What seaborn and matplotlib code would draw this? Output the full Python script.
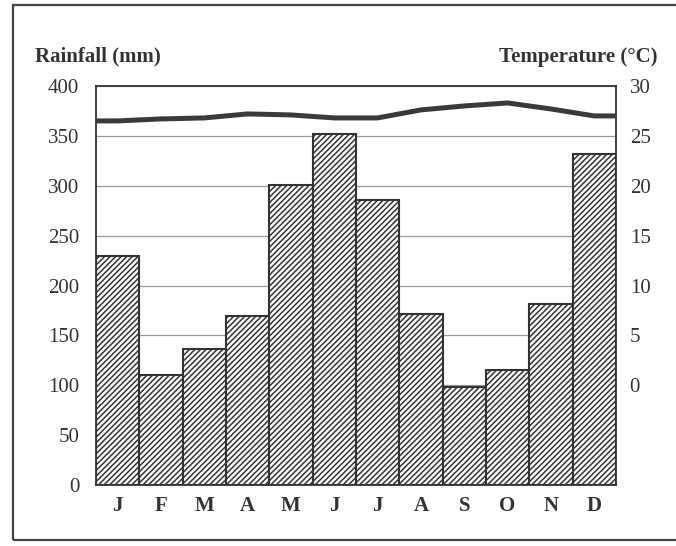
import numpy as np
import pandas as pd
import matplotlib
matplotlib.use("Agg")
import matplotlib.pyplot as plt
import seaborn as sns

# ---- data ----
months = ["Jan", "Feb", "Mar", "Apr", "May", "Jun",
          "Jul", "Aug", "Sep", "Oct", "Nov", "Dec"]
rainfall = [230, 110, 136, 169, 301, 352, 286, 171, 98, 115, 181, 332]
temperature = [26.5, 26.7, 26.8, 27.2, 27.1, 26.8, 26.8, 27.6, 28.0, 28.3, 27.7, 27.0]
rain_ticks = [0, 50, 100, 150, 200, 250, 300, 350, 400]
temp_ticks = [0, 5, 10, 15, 20, 25, 30]

sns.set_theme(style="white")
plt.rcParams["font.family"] = ["Liberation Serif", "DejaVu Serif"]
plt.rcParams["hatch.linewidth"] = 1.1
plt.rcParams["hatch.color"] = "#333333"

df = pd.DataFrame({"month": months, "rain": rainfall})
df["pos"] = np.arange(len(months))

fig = plt.figure(figsize=(6.76, 5.46), dpi=100)
ax = fig.add_axes([0.142, 0.1117, 0.769, 0.7308])

sns.barplot(data=df, x="pos", y="rain", color="white", width=1.0,
            edgecolor="#333333", linewidth=1.5, hatch="//////", ax=ax,
            saturation=1)

ax.set_ylim(0, 400)
ax.set_xlim(-0.5, len(months) - 0.5)
ax.set_yticks(rain_ticks)
ax.set_xticks(df["pos"])
ax.set_xticklabels([m[0] for m in months], fontweight="bold", fontsize=15)
ax.tick_params(axis="y", labelsize=15, pad=12, length=0)
ax.tick_params(axis="x", pad=8, length=0)
ax.set_xlabel("")
ax.set_ylabel("")
ax.yaxis.grid(True, color="#9a9a9a", lw=0.9)
ax.set_axisbelow(True)
for s in ax.spines.values():
    s.set_color("#333333")
    s.set_linewidth(1.3)
for lab in ax.get_yticklabels() + ax.get_xticklabels():
    lab.set_color("#333333")

# temperature on the right axis: 0 degC sits on the 100 mm line
ax2 = ax.twinx()
tx = np.r_[-0.5, df["pos"], len(months) - 0.5]
ty = np.r_[temperature[0], temperature, temperature[-1]]
sns.lineplot(x=tx, y=ty, color="#3a3a3a", lw=3.6, ax=ax2)
ax2.set_ylim(-10, 30)
ax2.set_yticks(temp_ticks)
ax2.tick_params(axis="y", labelsize=15, pad=10, length=0)
for lab in ax2.get_yticklabels():
    lab.set_color("#333333")
for s in ax2.spines.values():
    s.set_visible(False)
ax2.grid(False)

fig.text(0.052, 0.887, "Rainfall (mm)", fontsize=15, fontweight="bold",
         color="#333333", ha="left", va="baseline")
fig.text(0.972, 0.887, "Temperature (\u00b0C)", fontsize=15, fontweight="bold",
         color="#333333", ha="right", va="baseline")

# outer frame of the figure box
frame = plt.Rectangle((0.019, 0.011), 1.0, 0.98, transform=fig.transFigure,
                      fill=False, edgecolor="#444444", lw=1.6)
fig.patches.append(frame)

fig.savefig("out.png", dpi=100)
